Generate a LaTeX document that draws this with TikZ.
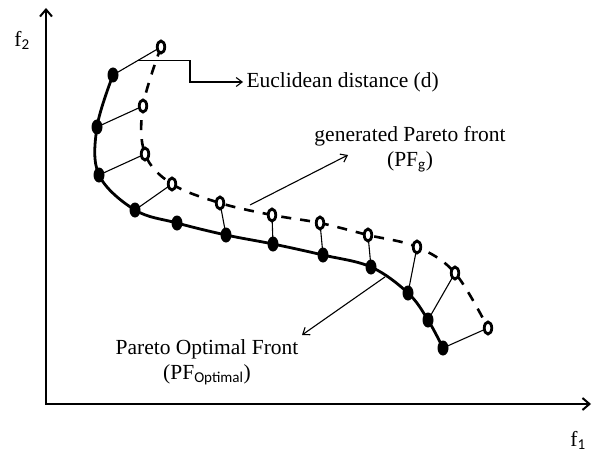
\documentclass[tikz,border=0pt]{standalone}
\usepackage{fontspec}
\setmainfont{Liberation Serif}
\newfontfamily\subfont{Carlito}
\usetikzlibrary{arrows.meta,shapes.geometric,calc,backgrounds}

\newcommand{\sbs}[1]{\textsubscript{\subfont #1}}

\tikzset{
  optdot/.style={ellipse, fill=black, inner sep=0pt, minimum width=11pt, minimum height=15pt},
  gendot/.style={ellipse, draw=black, fill=white, line width=2.8pt, inner sep=0pt, minimum width=7.5pt, minimum height=12pt},
  optfront/.style={line width=2.8pt},
  genfront/.style={line width=2.6pt, dash pattern=on 10pt off 9pt},
  dist/.style={line width=1.1pt},
  pointer/.style={line width=1.1pt, -{Straight Barb[length=6pt,width=9pt]}},
  axis/.style={line width=2pt}
}

\begin{document}
\begin{tikzpicture}[x=1pt, y=-1pt, every node/.style={font=\fontsize{21.5}{25}\selectfont}]
  \useasboundingbox (0,0) rectangle (593,457);

  %% Axes
  \coordinate (origin) at (46,404);
  \coordinate (ytip) at (46,8);
  \coordinate (xtip) at (591,404);
  \draw[axis, {Straight Barb[length=7pt,width=12pt]}-{Straight Barb[length=7pt,width=12pt]}]
    (ytip) -- (origin) -- (xtip);
  \node (f2) at (22,40) {f\sbs{2}};
  \node (f1) at (578,440) {f\sbs{1}};

  %% Pareto optimal front (filled) and generated front (open)
  \foreach \i/\x/\y in {1/113/75, 2/97/127, 3/99/175, 4/135/210, 5/177/223, 6/226/235,
                        7/273/244, 8/323/255, 9/371/267, 10/408/293, 11/428/320, 12/443/348}
    \node[optdot] (p\i) at (\x,\y) {};
  \foreach \i/\x/\y in {1/161/47, 2/143/106, 3/145/154, 4/172/184, 5/220/203, 6/272/215,
                        7/320/223, 8/368/235, 9/417/247, 10/455/273, 11/488/328}
    \node[gendot] (g\i) at (\x,\y) {};

  \begin{pgfonlayer}{background}
    % fronts
    \draw[optfront] plot[smooth, tension=0.6] coordinates {(p1.center) (p2.center) (p3.center)
      (p4.center) (p5.center) (p6.center) (p7.center) (p8.center) (p9.center) (p10.center)
      (p11.center) (p12.center)};
    \draw[genfront] plot[smooth, tension=0.6] coordinates {(g1.center) (g2.center) (g3.center)
      (g4.center) (g5.center) (g6.center) (g7.center) (g8.center) (g9.center) (g10.center)
      (g11.center)};
    % distances
    \foreach \a/\b in {1/1, 2/2, 3/3, 4/4, 6/5, 7/6, 8/7, 9/8, 10/9, 11/10, 12/11}
      \draw[dist] (p\a.center) -- (g\b.center);
  \end{pgfonlayer}

  %% Labels
  \node[anchor=west] (dlabel) at (243,82) {Euclidean distance (d)};
  \coordinate (dstart) at ($(p1)!0.52!(g1)$);
  \draw[pointer] (dstart) -- ++(52,0) |- (dlabel.west);

  \node[align=center] (glabel) at (410,149) {generated Pareto front\\(PF\sbs{g})};
  \coordinate (gstart) at (250,205);
  \coordinate (gtip) at (348,155);
  \draw[pointer] (gstart) -- (gtip);

  \node[align=center] (olabel) at (207,362) {Pareto Optimal Front\\(PF\sbs{Optimal})};
  \coordinate (ostart) at ($(p9)!0.38!(p10)$);
  \coordinate (otip) at (302,335);
  \draw[pointer] (ostart) -- (otip);
\end{tikzpicture}
\end{document}
